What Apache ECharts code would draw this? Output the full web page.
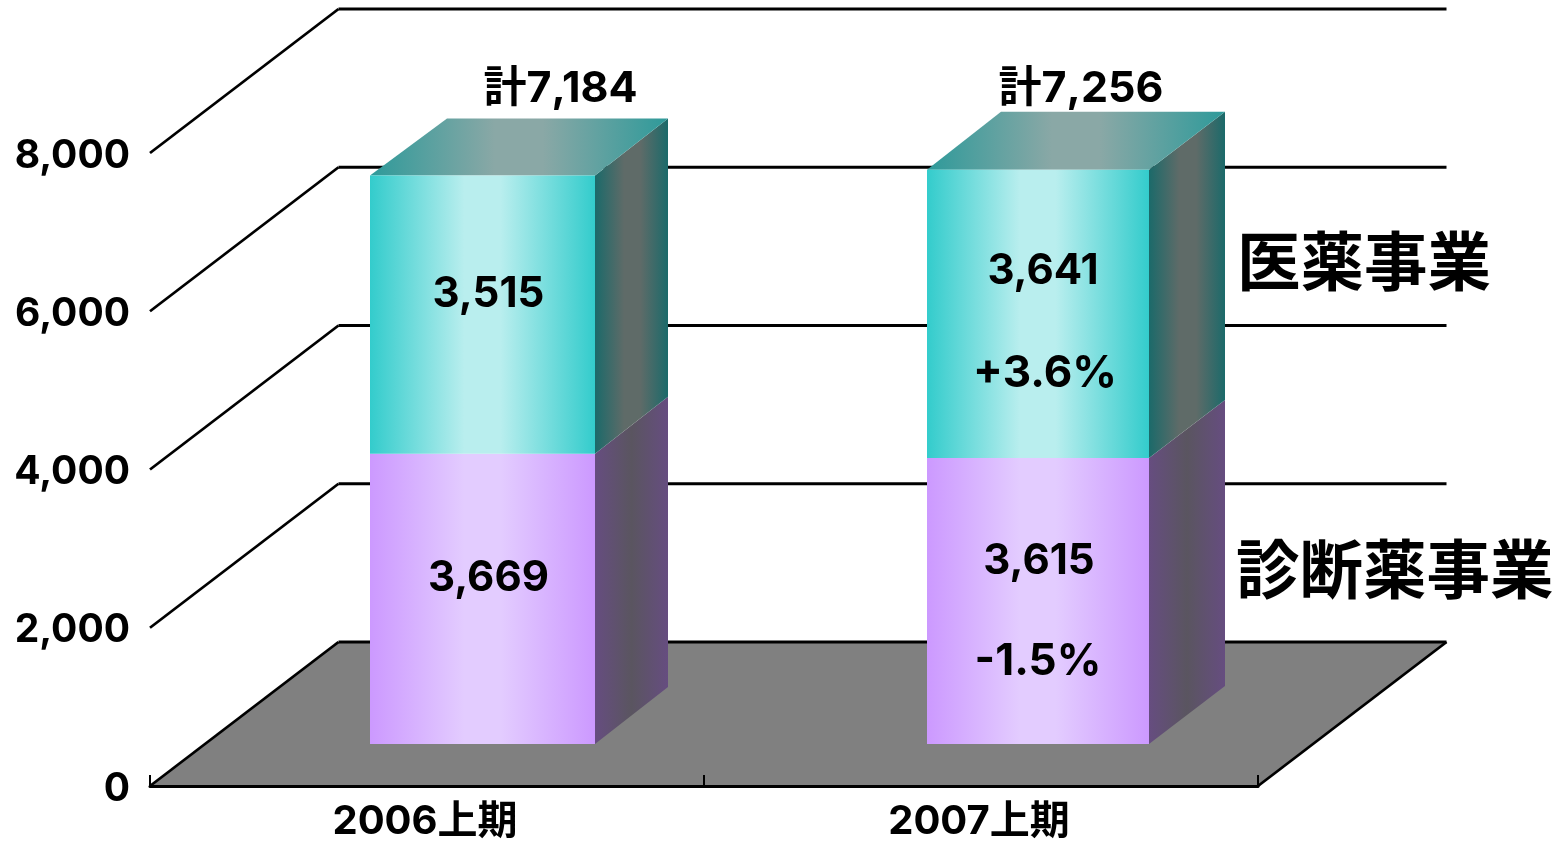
<!DOCTYPE html>
<html><head><meta charset="utf-8">
<style>html,body{margin:0;padding:0;background:#fff}#c{width:1563px;height:842px}</style>
<script src="https://cdn.jsdelivr.net/npm/echarts@6/dist/echarts.min.js"></script>
</head><body><div id="c"></div>
<script>
// ---- data ----
const categories = ['2006上期', '2007上期'];
const diagnostics = [3669, 3615];
const pharma = [3515, 3641];
const totals = [7184, 7256];
const pharmaChange = ['', '+3.6%'];
const diagnosticsChange = ['', '-1.5%'];
const yTicks = [0, 2000, 4000, 6000, 8000];
const seriesNames = ['診断薬事業', '医薬事業'];

// ---- 3D layout (screen offsets, px) ----
const FONT = "Inter, 'Noto Sans CJK JP', sans-serif";
const wall = {dx: 188.5, dy: -144};
const barLift = -42, barShift = [55.5, 57], barWidth = [225, 222];
const barDepthX = [73, 76], barDepthY = [-57, -58], topSkew = [4, -2];

function grad(stops) {
  return {type: 'linear', x: 0, y: 0, x2: 1, y2: 0, global: false,
    colorStops: stops.map(s => ({offset: s[0], color: s[1]}))};
}
const frontTeal = grad([[0, '#33cccc'], [0.42, '#b9eeee'], [0.58, '#b9eeee'], [1, '#33cccc']]);
const sideTeal = grad([[0, '#1b6a6a'], [0.4, '#5f6b68'], [0.62, '#5f6b68'], [1, '#1b6a6a']]);
const topTeal = grad([[0, '#2e9a9a'], [0.42, '#8aa8a6'], [0.58, '#8aa8a6'], [1, '#2e9a9a']]);
const frontPurple = grad([[0, '#cc99ff'], [0.42, '#e3ccff'], [0.58, '#e3ccff'], [1, '#cc99ff']]);
const sidePurple = grad([[0, '#664d80'], [0.5, '#5a5560'], [1, '#664d80']]);

function txt(x, y, text, size) {
  return {type: 'text', x, y, z2: 20, style: {
    text, fontFamily: FONT, fontSize: size || 42, fontWeight: 'bold',
    fill: '#000', align: 'center', verticalAlign: 'middle'}};
}

function renderWall(params, api) {
  const v = api.value(1);
  const cs = params.coordSys;
  const y = api.coord([0, v])[1];
  const x0 = cs.x, x1 = cs.x + cs.width;
  const line = {stroke: '#000', lineWidth: 2.8, fill: null};
  const kids = [];
  if (v === 0) {
    kids.push({type: 'polygon', shape: {points: [[x0, y], [x1, y], [x1 + wall.dx, y + wall.dy], [x0 + wall.dx, y + wall.dy]]},
      style: {fill: '#808080'}});
    kids.push({type: 'line', shape: {x1: x1, y1: y, x2: x1 + wall.dx, y2: y + wall.dy}, style: line});
  }
  kids.push({type: 'line', shape: {x1: x0, y1: y, x2: x0 + wall.dx, y2: y + wall.dy}, style: line});
  kids.push({type: 'line', shape: {x1: x0 + wall.dx, y1: y + wall.dy, x2: x1 + wall.dx, y2: y + wall.dy}, style: line});
  return {type: 'group', children: kids};
}

function box(api, i, from, to) {
  const c = api.coord([i, from]);
  const t = api.coord([i, to]);
  const l = c[0] + barShift[i] - barWidth[i] / 2;
  return {l, r: l + barWidth[i], b: c[1] + barLift, t: t[1] + barLift, dx: barDepthX[i], dy: barDepthY[i]};
}

function renderDiag(params, api) {
  const i = api.value(0);
  const b = box(api, i, 0, api.value(1));
  const cx = (b.l + b.r) / 2, cy = (b.t + b.b) / 2;
  const kids = [
    {type: 'polygon', shape: {points: [[b.r, b.b], [b.r + b.dx, b.b + b.dy], [b.r + b.dx, b.t + b.dy], [b.r, b.t]]}, style: {fill: sidePurple}},
    {type: 'rect', shape: {x: b.l, y: b.t, width: b.r - b.l, height: b.b - b.t}, style: {fill: frontPurple}}
  ];
  const change = diagnosticsChange[i];
  kids.push(txt(cx + (change ? 1 : 6), cy + (change ? -40 : -20), api.value(1).toLocaleString('en-US')));
  if (change) kids.push(txt(cx, cy + 61, change, 44));
  return {type: 'group', children: kids};
}

function renderPharma(params, api) {
  const i = api.value(0);
  const base = api.value(1), top = api.value(2);
  const b = box(api, i, base, top);
  const cx = (b.l + b.r) / 2, cy = (b.t + b.b) / 2;
  const kids = [
    {type: 'polygon', shape: {points: [[b.r, b.b], [b.r + b.dx, b.b + b.dy], [b.r + b.dx, b.t + b.dy], [b.r, b.t]]}, style: {fill: sideTeal}},
    {type: 'polygon', shape: {points: [[b.l, b.t], [b.r, b.t], [b.r + b.dx, b.t + b.dy], [b.l + b.dx + topSkew[i], b.t + b.dy]]}, style: {fill: topTeal}},
    {type: 'rect', shape: {x: b.l, y: b.t, width: b.r - b.l, height: b.b - b.t}, style: {fill: frontTeal}}
  ];
  const change = pharmaChange[i];
  kids.push(txt(cx + (change ? 5 : 6), cy + (change ? -43 : -20), (top - base).toLocaleString('en-US')));
  if (change) kids.push(txt(cx + 7, cy + 60, change, 44));
  kids.push(txt(cx + (i === 0 ? 78 : 43), b.t - (i === 0 ? 86 : 81), '計' + totals[i].toLocaleString('en-US'), 43));
  return {type: 'group', children: kids};
}

const option = {
  animation: false,
  backgroundColor: '#fff',
  textStyle: {fontFamily: FONT},
  grid: {left: 150, right: 305, top: 153, bottom: 56, containLabel: false},
  xAxis: {
    type: 'category', data: categories, z: 2,
    axisLine: {show: true, lineStyle: {color: '#000', width: 3}},
    axisTick: {show: true, interval: 0, alignWithLabel: false, inside: true, length: 11, lineStyle: {color: '#000', width: 2}},
    axisLabel: {color: '#000', fontSize: 40, fontWeight: 'bold', fontFamily: FONT, margin: 16, padding: [0, 4, 0, 0]}
  },
  yAxis: {
    type: 'value', min: 0, max: 8000, interval: 2000,
    axisLine: {show: false}, axisTick: {show: false}, splitLine: {show: false},
    axisLabel: {color: '#000', fontSize: 39, fontWeight: 'bold', fontFamily: FONT, margin: 20,
      verticalAlign: 'top', lineHeight: 40, padding: [-17, 0, 0, 0],
      formatter: v => v.toLocaleString('en-US')}
  },
  graphic: [
    {type: 'text', x: 1237, y: 266, z: 30, style: {text: seriesNames[1], fontFamily: FONT, fontSize: 63.5, fontWeight: 'bold', fill: '#000', verticalAlign: 'middle'}},
    {type: 'text', x: 1236, y: 574, z: 30, style: {text: seriesNames[0], fontFamily: FONT, fontSize: 63.5, fontWeight: 'bold', fill: '#000', verticalAlign: 'middle'}}
  ],
  series: [
    {type: 'custom', name: 'wall', z: 1, renderItem: renderWall, silent: true,
      encode: {x: 0, y: 1}, data: yTicks.map(v => [0, v])},
    {type: 'custom', name: seriesNames[0], z: 3, renderItem: renderDiag, silent: true,
      encode: {x: 0, y: 1}, data: categories.map((c, i) => [i, diagnostics[i]])},
    {type: 'custom', name: seriesNames[1], z: 3, renderItem: renderPharma, silent: true,
      encode: {x: 0, y: [1, 2]}, data: categories.map((c, i) => [i, diagnostics[i], diagnostics[i] + pharma[i]])}
  ]
};
echarts.init(document.getElementById('c'), null, {renderer: 'canvas'}).setOption(option);
</script></body></html>
